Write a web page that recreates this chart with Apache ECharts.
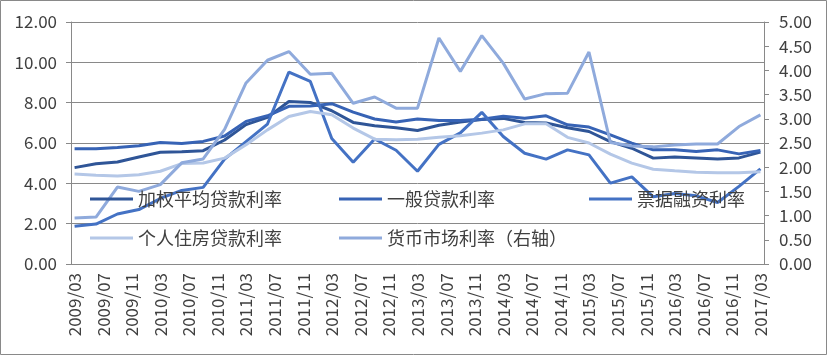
<!DOCTYPE html>
<html><head><meta charset="utf-8">
<script src="https://cdn.jsdelivr.net/npm/echarts@6/dist/echarts.min.js"></script>
<style>html,body{margin:0;padding:0;background:#fff}#c{width:827px;height:355px}</style>
</head><body><div id="c"></div>
<script>
// Quarterly observation dates
const quarters = ['2009/03','2009/06','2009/09','2009/12','2010/03','2010/06','2010/09','2010/12',
 '2011/03','2011/06','2011/09','2011/12','2012/03','2012/06','2012/09','2012/12',
 '2013/03','2013/06','2013/09','2013/12','2014/03','2014/06','2014/09','2014/12',
 '2015/03','2015/06','2015/09','2015/12','2016/03','2016/06','2016/09','2016/12','2017/03'];
const weightedAvg = [4.78,4.97,5.06,5.31,5.54,5.57,5.62,6.15,6.91,7.27,8.06,8.01,7.60,7.02,6.86,6.76,
 6.62,6.88,7.04,7.16,7.22,7.02,6.99,6.76,6.57,6.07,5.74,5.25,5.30,5.26,5.21,5.26,5.55];
const generalLoan = [5.72,5.72,5.78,5.86,6.03,5.98,6.08,6.35,7.07,7.35,7.82,7.83,7.95,7.53,7.19,7.04,
 7.19,7.12,7.12,7.18,7.33,7.23,7.35,6.90,6.79,6.40,5.99,5.66,5.66,5.58,5.66,5.46,5.63];
const billRate = [1.87,1.98,2.48,2.70,3.25,3.65,3.80,5.20,6.07,6.94,9.52,9.05,6.22,5.05,6.20,5.64,
 4.60,5.93,6.50,7.52,6.32,5.49,5.20,5.66,5.41,4.01,4.32,3.33,3.50,3.38,3.05,3.85,4.72];
const housingLoan = [4.46,4.40,4.36,4.43,4.60,4.98,5.01,5.25,5.91,6.65,7.31,7.56,7.40,6.74,6.19,6.16,
 6.19,6.29,6.36,6.49,6.65,6.95,6.95,6.28,6.00,5.45,5.00,4.70,4.62,4.55,4.53,4.53,4.58];
const moneyMarket = [0.95,0.97,1.59,1.50,1.64,2.09,2.17,2.78,3.74,4.21,4.39,3.92,3.94,3.32,3.45,3.22,
 3.22,4.67,3.98,4.72,4.15,3.41,3.52,3.53,4.38,2.51,2.44,2.42,2.46,2.48,2.48,2.84,3.08];
const seriesNames = ['加权平均贷款利率','一般贷款利率','票据融资利率','个人住房贷款利率','货币市场利率（右轴）'];
const leftTicks = {min:0,max:12,interval:2};
const rightTicks = {min:0,max:5,interval:0.5};

// monthly category axis
const months = [];
{
  let [y,m] = quarters[0].split('/').map(Number);
  const [ey,em] = quarters[quarters.length-1].split('/').map(Number);
  while (y < ey || (y === ey && m <= em)) {
    months.push(y + '/' + String(m).padStart(2,'0'));
    m++; if (m > 12) { m = 1; y++; }
  }
}
function toMonthly(arr){
  const out = months.map(()=>null);
  quarters.forEach((q,i)=>{ out[months.indexOf(q)] = arr[i]; });
  return out;
}
const FONT = '"Noto Sans CJK SC","Noto Sans",sans-serif';
const colors = ['#2F5597','#3763B5','#4472C4','#B4C7E7','#8FAADC'];
const grey = '#898989';
const dataSets = [weightedAvg, generalLoan, billRate, housingLoan, moneyMarket];

const chart = echarts.init(document.getElementById('c'), null, {renderer:'canvas'});
const legendPos = [[90,189],[339,189],[589,189],[90,228],[339,228]];
chart.setOption({
  animation:false,
  color: colors,
  graphic:[{type:'rect',shape:{x:0.5,y:0.5,width:826,height:354},style:{fill:'none',stroke:grey,lineWidth:1},silent:true}],
  grid:{left:71,right:63,top:22,height:242,containLabel:false},
  legend: seriesNames.map((n,i)=>({
    data:[n], left:legendPos[i][0], top:legendPos[i][1], padding:0,
    itemWidth:43, itemHeight:3, icon:'rect',
    textStyle:{fontFamily:FONT,fontSize:18,color:'#404040',lineHeight:20}
  })),
  xAxis:{
    type:'category', data:months, boundaryGap:true,
    axisLine:{lineStyle:{color:grey,width:1}},
    axisTick:{interval:3,length:5,lineStyle:{color:grey}},
    axisLabel:{interval:3,rotate:90,margin:9,fontFamily:FONT,fontSize:17,color:'#404040'}
  },
  yAxis:[
    {type:'value',min:leftTicks.min,max:leftTicks.max,interval:leftTicks.interval,
     axisLine:{show:true,lineStyle:{color:grey}},
     axisTick:{show:true,length:5,lineStyle:{color:grey}},
     splitLine:{show:true,lineStyle:{color:grey,width:1}},
     axisLabel:{margin:14,fontFamily:FONT,fontSize:17,color:'#404040',formatter:v=>v.toFixed(2)}},
    {type:'value',min:rightTicks.min,max:rightTicks.max,interval:rightTicks.interval,
     axisLine:{show:true,lineStyle:{color:grey}},
     axisTick:{show:true,length:5,lineStyle:{color:grey}},
     splitLine:{show:false},
     axisLabel:{margin:15,fontFamily:FONT,fontSize:17,color:'#404040',formatter:v=>v.toFixed(2)}}
  ],
  series: seriesNames.map((n,i)=>({
    name:n, type:'line', yAxisIndex: i===4?1:0, data: toMonthly(dataSets[i]),
    connectNulls:true, showSymbol:false, symbol:'none',
    lineStyle:{width:3,color:colors[i]}, itemStyle:{color:colors[i]}
  }))
});
</script></body></html>
